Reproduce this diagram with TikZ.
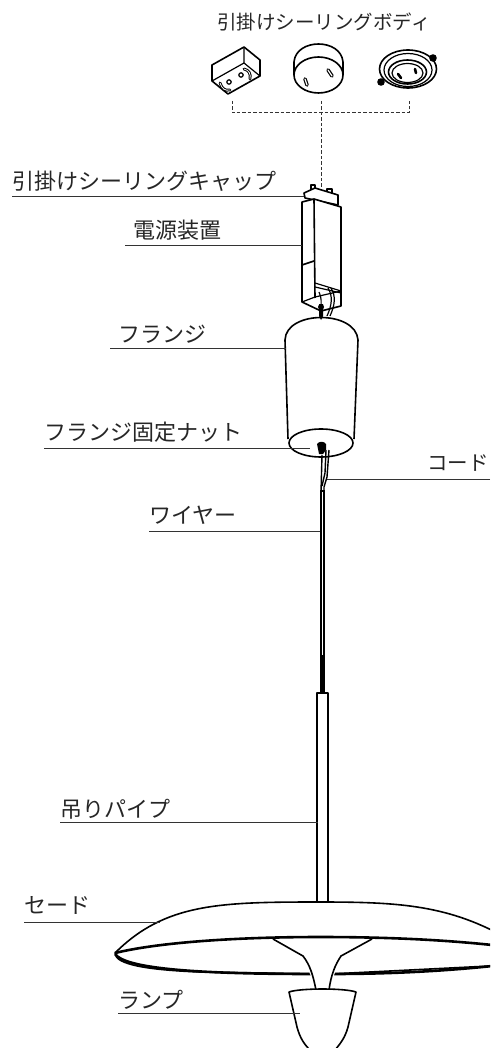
\documentclass[tikz,border=0pt]{standalone}
\usepackage{fontspec}
\newfontfamily\jpfont{Noto Sans CJK JP}

\begin{document}
\begin{tikzpicture}[x=1pt,y=-1pt,
			part/.style={draw=black,line width=1.6pt,line join=round,fill=white},
			thin part/.style={draw=black,line width=1.2pt,line join=round},
			rim/.style={draw=black,line width=2.6pt,line join=round},
			key slot/.style={draw=black,line width=3.6pt,line cap=round},
			slot core/.style={draw=white,line width=1.2pt,line cap=round},
			leader/.style={draw=black!80,line width=1pt},
			guide/.style={draw=black!80,line width=1pt,dash pattern=on 3.5pt off 2pt},
			part label/.style={anchor=west,inner sep=0pt,text=black!85,font=\jpfont\fontsize{22}{22}\selectfont}
			]
			
			\clip (0,0) rectangle (490,1048);
			\fill[white] (0,0) rectangle (490,1048);
			
			% body variants
			\node[inner sep=0pt,text=black!85,font=\jpfont\fontsize{19.5}{20}\selectfont] (body) at (324,22) {引掛けシーリングボディ};
			
			\draw[part] (212,65) -- (244,47) -- (260,60) -- (260,76) -- (228,94) -- (212,81) -- cycle;
			\draw[thin part] (244,47) -- (244,63) -- (212,81);
			\draw[thin part] (244,63) -- (260,76);
			\draw[key slot,line width=2.8pt] (220,83) .. controls (222,89) and (225,91) .. (230,90);
			\draw[slot core,line width=0.8pt] (220,83) .. controls (222,89) and (225,91) .. (230,90);
			\draw[key slot,line width=2.8pt] (244,69) .. controls (249,70) and (251,74) .. (250,79);
			\draw[slot core,line width=0.8pt] (244,69) .. controls (249,70) and (251,74) .. (250,79);
			\draw[thin part] (229,82) circle (2.2pt);
			\draw[thin part] (241,75) circle (2.2pt);
			
			\draw[part] (294,75) -- (294,62) .. controls (296,38) and (341,38) .. (343,62) -- (343,75);
			\draw[part] (318.5,75) ellipse (24.5 and 18);
			\foreach \ax/\ay/\bx/\by in {305/79/307/85,328/70/332/76} {
				\draw[key slot] (\ax,\ay) -- (\bx,\by);
				\draw[slot core] (\ax,\ay) -- (\bx,\by);
			}
			
			\draw[part] (408,69) ellipse (28.5 and 19);
			\draw[thin part] (408,70) ellipse (24 and 16.5);
			\draw[part] (407.5,72) ellipse (19 and 12);
			\draw[thin part] (407.5,73) ellipse (15.5 and 9.5);
			\fill[black] (433,58) circle (3.8pt);
			\fill[black] (381,82) circle (3.8pt);
			\draw[line width=2.6pt,line cap=round] (398,74) -- (401,78);
			\draw[line width=2.6pt,line cap=round] (415,69) -- (416,73);
			
			% dashed links
			\coordinate (boxFoot) at (232,101);
			\coordinate (ringFoot) at (409,101);
			\coordinate (roundFoot) at (321,101);
			\coordinate (capTop) at (321,188);
			\draw[guide] (boxFoot) -- (232,113) -- (409,113) -- (ringFoot);
			\draw[guide] (roundFoot) -- (capTop);
			
			% cap and power unit
			\draw[part] (311,185) rectangle (315,190);
			\draw[part] (327,189) rectangle (332,194);
			\draw[part] (304,193) -- (315,188) -- (338,195) -- (338,205) -- (305,198) -- cycle;
			\draw[part] (302,202) -- (314,199) -- (341,207) -- (341,306) -- (321,311) -- (302,302) -- cycle;
			\draw[part] (314,199) -- (315,298);
			\draw[part] (302,265) -- (314,261);
			\draw[thin part] (315,283) -- (341,291);
			\draw[thin part] (315,287) -- (341,293);
			\draw[thin part] (302,302) -- (315,297) -- (341,291);
			\draw[thin part] (328,288) .. controls (333,296) and (332,305) .. (327,316);
			\draw[thin part] (331,288) .. controls (336,296) and (335,305) .. (330,316);
			\draw[thin part] (319,292) .. controls (322,298) and (321,303) .. (321,308);
			
			% flange
			\draw[part] (288,439) -- (285,340) .. controls (286,310) and (356,310) .. (358,340) -- (354,439);
			\draw[part] (321,443) ellipse (32 and 14);
			\fill[black] (321,307) circle (3pt);
			\fill[black] (319,304) -- (323,304) -- (323,316) -- (321,320) -- (319,316) -- cycle;
			\fill[black] (317,444) .. controls (319,441) and (324,441) .. (326,444) -- (326,450) -- (323,454) -- (319,454) -- cycle;
			
			% wire and cord
			\draw[line width=1.4pt] (322,455) -- (321,492);
			\draw[line width=1.4pt] (329,450) -- (327,477) -- (324,487) -- (324,492);
			\draw[line width=1.4pt] (326,450) -- (325,473) -- (322,486);
			\draw[line width=4.4pt] (322.5,490) -- (322.5,693);
			\draw[white,line width=0.6pt] (322.5,492) -- (322.5,655);
			
			% pipe
			\draw[part] (317,693) rectangle (328,905);
			
			% shade
			\draw[part] (115,953) .. controls (165,903) and (220,902) .. (320,902) .. controls (400,902) and (450,905) .. (510,940) -- (510,965) -- (330,974) -- (200,972) .. controls (150,970) and (115,965) .. cycle;
			\draw[rim] (115,953) .. controls (160,942) and (240,937) .. (320,937) .. controls (400,937) and (460,941) .. (510,947);
			\draw[rim] (115,954) .. controls (125,968) and (190,974) .. (313,974);
			\draw[rim] (331,974) .. controls (400,974) and (460,970) .. (510,964);
			
			% neck and lamp
			\fill[white] (273,939) -- (372,939) -- (341,956) -- (329,989) -- (316,989) -- (303,956) -- cycle;
			\draw[part,fill=none] (273,939) -- (303,956) .. controls (310,965) and (313,975) .. (316,990);
			\draw[part,fill=none] (372,939) -- (341,956) .. controls (335,965) and (331,975) .. (329,990);
			\draw[part] (289,992) .. controls (300,988) and (345,988) .. (356,992) -- (348,1027) .. controls (345,1038) and (340,1044) .. (335,1050) -- (310,1050) .. controls (304,1044) and (300,1038) .. (297,1027) -- cycle;
			
			% labels with their leaders
			\foreach \nm/\txt/\tx/\ty/\sx/\ex/\ly in {
				cap/引掛けシーリングキャップ/12/181/12/304/197,
				power/電源装置/133/230/125/302/246,
				flange/フランジ/118/334/110/286/348,
				nut/フランジ固定ナット/44/432/44/310/448,
				wire/ワイヤー/149/515/149/320/531,
				pipe/吊りパイプ/60/809/60/318/822,
				shade/セード/24/905/24/160/922,
				lamp/ランプ/118/1000/118/300/1013} {
				\node[part label] (\nm) at (\tx,\ty) {\txt};
				\coordinate (\nm Start) at (\sx,\ly);
				\coordinate (\nm End) at (\ex,\ly);
				\draw[leader] (\nm Start) -- (\nm End);
			}
			\node[part label,font=\jpfont\fontsize{20.5}{21}\selectfont] (cord) at (427,463) {コード};
			\coordinate (cordEnd) at (327,479);
			\coordinate (cordStart) at (490,479);
			\draw[leader] (cordStart) -- (cordEnd);
			\end{tikzpicture}
\end{document}
